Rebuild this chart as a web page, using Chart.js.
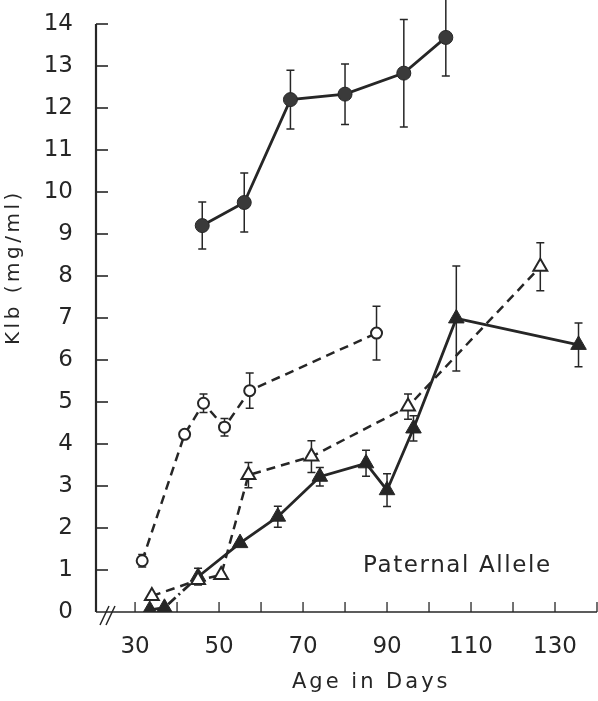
<!DOCTYPE html>
<html>
<head>
<meta charset="utf-8">
<script src="https://cdn.jsdelivr.net/npm/chart.js@4.4.1/dist/chart.umd.min.js"></script>
<style>
  html, body { margin: 0; padding: 0; background: #fff; }
  canvas { display: block; }
</style>
</head>
<body>
<canvas id="chart" width="598" height="701"></canvas>
<script>
// axis ticks
const xTickValues = [30, 40, 50, 60, 70, 80, 90, 100, 110, 120, 130, 140];
const xTickLabels = [30, 50, 70, 90, 110, 130];
const yTickValues = [0, 1, 2, 3, 4, 5, 6, 7, 8, 9, 10, 11, 12, 13, 14];

// filled circles, solid line
const ageFilledCircle = [46, 56, 67, 80, 94, 104];
const klbFilledCircle = [9.2, 9.75, 12.2, 12.33, 12.83, 13.68];
const errFilledCircle = [0.56, 0.7, 0.7, 0.72, 1.28, 0.92];

// open circles, dashed line
const ageOpenCircle = [31.7, 41.8, 46.3, 51.3, 57.3, 87.5];
const klbOpenCircle = [1.22, 4.23, 4.97, 4.4, 5.27, 6.64];
const errOpenCircle = [0.15, 0, 0.22, 0.21, 0.42, 0.64];

// open triangles, dashed line
const ageOpenTriangle = [34, 45, 50.5, 57, 72, 95, 126.5];
const klbOpenTriangle = [0.38, 0.76, 0.88, 3.26, 3.7, 4.89, 8.22];
const errOpenTriangle = [0, 0, 0, 0.3, 0.38, 0.3, 0.57];

// filled triangles, solid line
const ageFilledTriangle = [33.5, 37, 45, 55, 64, 74, 85, 90, 96.3, 106.5, 135.6];
const klbFilledTriangle = [0.05, 0.1, 0.84, 1.64, 2.27, 3.22, 3.54, 2.9, 4.37, 6.99, 6.36];
const errFilledTriangle = [0, 0, 0.2, 0, 0.25, 0.22, 0.31, 0.39, 0.3, 1.25, 0.52];

const ink = "#262626";
const toPoints = (xs, ys) => xs.map((x, i) => ({ x, y: ys[i] }));

const drawSpaced = (ctx, text, x, y, spacing) => {
  ctx.letterSpacing = spacing + "px";
  ctx.fillText(text, x, y);
  ctx.letterSpacing = "0px";
};

const handDrawn = {
  id: "handDrawn",
  beforeDatasetsDraw(chart) {
    const { ctx, scales } = chart;
    ctx.save();
    ctx.strokeStyle = ink;
    ctx.lineWidth = 1.5;
    chart.data.datasets.forEach((ds) => {
      ds.data.forEach((p, i) => {
        const e = ds.errors[i];
        if (!e) return;
        const px = scales.x.getPixelForValue(p.x);
        const top = scales.y.getPixelForValue(p.y + e);
        const bottom = scales.y.getPixelForValue(p.y - e);
        ctx.beginPath();
        ctx.moveTo(px, top);
        ctx.lineTo(px, bottom);
        ctx.moveTo(px - 4, top);
        ctx.lineTo(px + 4, top);
        ctx.moveTo(px - 4, bottom);
        ctx.lineTo(px + 4, bottom);
        ctx.stroke();
      });
    });
    ctx.restore();
  },
  afterDraw(chart) {
    const { ctx, scales } = chart;
    const x = scales.x;
    const y = scales.y;
    const left = chart.chartArea.left;
    const right = chart.chartArea.right;
    const y0 = y.getPixelForValue(0);
    ctx.save();
    ctx.strokeStyle = ink;

    // y axis with inward ticks
    ctx.lineWidth = 2.2;
    ctx.beginPath();
    ctx.moveTo(left, y0);
    ctx.lineTo(left, y.getPixelForValue(14));
    ctx.stroke();
    ctx.lineWidth = 1.6;
    yTickValues.forEach((v) => {
      if (v === 0) return;
      const py = y.getPixelForValue(v);
      ctx.beginPath();
      ctx.moveTo(left, py);
      ctx.lineTo(left + 12, py);
      ctx.stroke();
    });

    // x axis with inward ticks
    ctx.lineWidth = 1.6;
    ctx.beginPath();
    ctx.moveTo(left, y0);
    ctx.lineTo(right, y0);
    ctx.stroke();
    ctx.lineWidth = 1.3;
    xTickValues.forEach((v) => {
      const px = x.getPixelForValue(v);
      ctx.beginPath();
      ctx.moveTo(px, y0);
      ctx.lineTo(px, y0 - 10);
      ctx.stroke();
    });

    // axis break
    ctx.lineWidth = 1.5;
    ctx.beginPath();
    ctx.moveTo(left + 4, y0 + 13);
    ctx.lineTo(left + 13, y0 - 6);
    ctx.moveTo(left + 10, y0 + 13);
    ctx.lineTo(left + 19, y0 - 6);
    ctx.stroke();

    // titles and annotation
    ctx.fillStyle = ink;
    ctx.textBaseline = "alphabetic";
    ctx.textAlign = "left";
    ctx.font = "21px 'DejaVu Sans'";
    drawSpaced(ctx, "Age in Days", 292, 688, 3);
    ctx.font = "23px 'DejaVu Sans'";
    drawSpaced(ctx, "Paternal Allele", 363, 572, 1.6);

    ctx.translate(19, 345);
    ctx.rotate(-Math.PI / 2);
    ctx.font = "20px 'DejaVu Sans'";
    drawSpaced(ctx, "Klb (mg/ml)", 0, 0, 3.5);
    ctx.restore();
  },
};

new Chart(document.getElementById("chart"), {
  type: "line",
  data: {
    datasets: [
      {
        label: "open circles",
        data: toPoints(ageOpenCircle, klbOpenCircle),
        errors: errOpenCircle,
        borderColor: ink,
        borderWidth: 2.5,
        borderDash: [9, 6],
        pointStyle: "circle",
        pointRadius: 5.5,
        pointBorderWidth: 2,
        pointBackgroundColor: "#fff",
        pointBorderColor: ink,
      },
      {
        label: "open triangles",
        data: toPoints(ageOpenTriangle, klbOpenTriangle),
        errors: errOpenTriangle,
        borderColor: ink,
        borderWidth: 2.5,
        borderDash: [9, 6],
        pointStyle: "triangle",
        pointRadius: 8,
        pointBorderWidth: 2,
        pointBackgroundColor: "#fff",
        pointBorderColor: ink,
      },
      {
        label: "filled triangles",
        data: toPoints(ageFilledTriangle, klbFilledTriangle),
        errors: errFilledTriangle,
        borderColor: ink,
        borderWidth: 2.8,
        segment: {
          borderDash: (ctx) => (ctx.p0DataIndex <= 1 ? [10, 4, 2, 4] : undefined),
        },
        pointStyle: "triangle",
        pointRadius: 9,
        pointBorderWidth: 1,
        pointBackgroundColor: ink,
        pointBorderColor: ink,
      },
      {
        label: "filled circles",
        data: toPoints(ageFilledCircle, klbFilledCircle),
        errors: errFilledCircle,
        borderColor: ink,
        borderWidth: 2.8,
        pointStyle: "circle",
        pointRadius: 7,
        pointBorderWidth: 1,
        pointBackgroundColor: "#3a3a3a",
        pointBorderColor: ink,
      },
    ],
  },
  options: {
    responsive: false,
    animation: false,
    devicePixelRatio: 1,
    layout: { autoPadding: false, padding: { top: 24, right: 1, left: 0, bottom: 0 } },
    elements: { line: { tension: 0, fill: false } },
    scales: {
      x: {
        type: "linear",
        min: 20.7,
        max: 140,
        afterBuildTicks: (scale) => {
          scale.ticks = xTickValues.map((value) => ({ value }));
        },
        afterFit: (scale) => {
          scale.height = 89;
          scale.paddingLeft = 0;
          scale.paddingRight = 0;
        },
        grid: { display: false, drawTicks: false },
        border: { display: false },
        ticks: {
          autoSkip: false,
          maxRotation: 0,
          padding: 21,
          color: ink,
          font: { family: "DejaVu Sans", size: 23 },
          callback: (v) => (xTickLabels.includes(v) ? String(v) : ""),
        },
      },
      y: {
        type: "linear",
        min: 0,
        max: 14,
        afterBuildTicks: (scale) => {
          scale.ticks = yTickValues.map((value) => ({ value }));
        },
        afterFit: (scale) => {
          scale.width = 96;
          scale.paddingTop = 0;
          scale.paddingBottom = 0;
        },
        grid: { display: false, drawTicks: false },
        border: { display: false },
        ticks: {
          padding: 23,
          color: ink,
          font: { family: "DejaVu Sans", size: 23 },
        },
      },
    },
    plugins: {
      legend: { display: false },
      tooltip: { enabled: false },
    },
  },
  plugins: [handDrawn],
});
</script>
</body>
</html>
